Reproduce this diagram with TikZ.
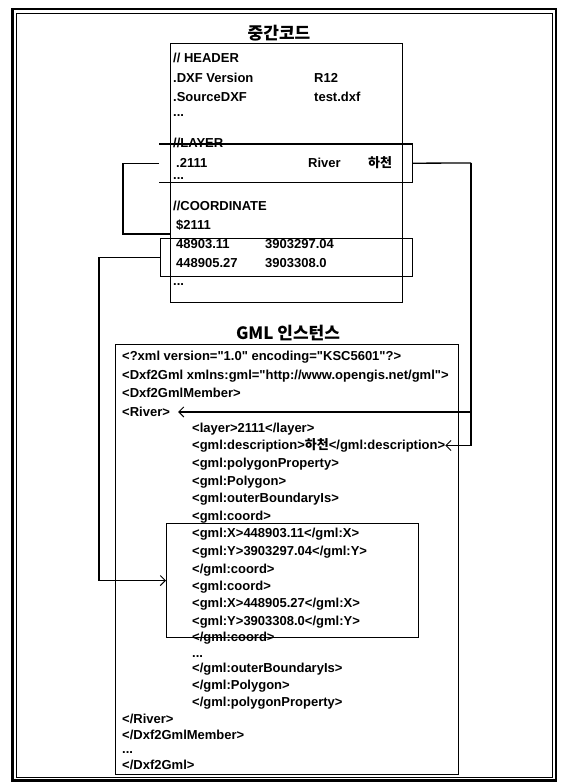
\documentclass[tikz,border=0pt]{standalone}
\usepackage{fontspec}
\setmainfont{Liberation Sans}[Ligatures=TeXOff]
\newfontfamily\kr{Noto Sans CJK KR}
\usetikzlibrary{arrows.meta}
\begin{document}
\begin{tikzpicture}[x=1pt,y=-1pt,
  txt/.style={anchor=base west, inner sep=0pt, font=\fontsize{13}{15}\selectfont\bfseries},
  ttl/.style={inner sep=0pt, font=\fontsize{17}{20}\selectfont\kr\bfseries},
  boxline/.style={line width=1.1pt},
  conn/.style={line width=1.3pt},
  arr/.style={conn, -{Straight Barb[length=5pt,width=10pt,line width=1pt]}},
  area/.style={inner sep=0pt, anchor=north west},
]
\useasboundingbox (0,0) rectangle (566,783);
\fill[white] (0,0) rectangle (566,783);
% outer frame
\draw[line width=2.4pt] (12.5,9) rectangle (556,780.5);
\draw[line width=0.7pt] (16.5,13) rectangle (552,777);

% titles
\node[ttl] (t1) at (279,33) {중간코드};
\node[ttl] (t2) at (288,333) {GML 인스턴스};

% upper box
\node[area, draw, boxline, minimum width=232, minimum height=259] (upper) at (170,43) {};
\node[area, minimum width=253, minimum height=38] (lay) at (159,144) {};
\draw[boxline] (lay.north west) -- (lay.north east) -- (lay.south east) -- (lay.south west);
\node[area, draw, boxline, minimum width=252, minimum height=38] (cbox) at (160,238) {};

\node[txt] (h1) at (173,62.5) {// HEADER};
\node[txt] (h2) at (173,82.5) {.DXF Version};
\node[txt] (h2v) at (314,82.5) {R12};
\node[txt] (h3) at (173,101.5) {.SourceDXF};
\node[txt] (h3v) at (314,101.5) {test.dxf};
\node[txt] (h4) at (173,117) {...};
\node[txt] (l1) at (173,147.5) {//LAYER};
\node[txt] (l2) at (176,167.5) {.2111};
\node[txt] (l2b) at (308,167.5) {River};
\node[txt] (l2c) at (368,167.5) {\kr\bfseries 하천};
\node[txt] (l3) at (173,180) {...};
\node[txt] (c1) at (173,210.5) {//COORDINATE};
\node[txt] (c2) at (176,229.5) {\$2111};
\node[txt] (c3) at (176,248.5) {48903.11};
\node[txt] (c3b) at (265,248.5) {3903297.04};
\node[txt] (c4) at (176,267.5) {448905.27};
\node[txt] (c4b) at (265,267.5) {3903308.0};
\node[txt] (c5) at (173,285) {...};

% GML box
\node[area, draw, boxline, minimum width=343, minimum height=430] (gml) at (115,344) {};
\node[area, draw, boxline, minimum width=252, minimum height=114] (gcbox) at (166,523) {};

\node[txt] (g1) at (122,360.6) {<?xml version="1.0" encoding="KSC5601"?>};
\node[txt] (g2) at (122,379.6) {<Dxf2Gml xmlns:gml="http://www.opengis.net/gml">};
\node[txt] (g3) at (122,397.6) {<Dxf2GmlMember>};
\node[txt] (river) at (122,416.6) {<River>};
\node[txt] (g5) at (192,432.6) {<layer>2111</layer>};
\node[txt] (desc) at (192,449.6) {<gml:description>{\kr\bfseries 하천}</gml:description>};
\node[txt] (g7) at (192,467.6) {<gml:polygonProperty>};
\node[txt] (g8) at (192,485.6) {<gml:Polygon>};
\node[txt] (g9) at (192,502.6) {<gml:outerBoundaryIs>};
\node[txt] (g10) at (192,520.6) {<gml:coord>};
\node[txt] (g11) at (192,537.6) {<gml:X>448903.11</gml:X>};
\node[txt] (g12) at (192,555.6) {<gml:Y>3903297.04</gml:Y>};
\node[txt] (g13) at (192,573.6) {</gml:coord>};
\node[txt] (g14) at (192,590.6) {<gml:coord>};
\node[txt] (g15) at (192,607.6) {<gml:X>448905.27</gml:X>};
\node[txt] (g16) at (192,625.6) {<gml:Y>3903308.0</gml:Y>};
\node[txt] (g17) at (192,641.6) {</gml:coord>};
\node[txt] (g18) at (192,657) {...};
\node[txt] (g19) at (192,672.6) {</gml:outerBoundaryIs>};
\node[txt] (g20) at (192,689.6) {</gml:Polygon>};
\node[txt] (g21) at (192,706.6) {</gml:polygonProperty>};
\node[txt] (g22) at (122,723) {</River>};
\node[txt] (g23) at (122,739.6) {</Dxf2GmlMember>};
\node[txt] (g24) at (122,753.5) {...};
\node[txt] (g25) at (122,769.6) {</Dxf2Gml>};

% connectors
\coordinate (j2111) at (170,234);
\draw[conn] (lay.west) -- ++(-36,0) |- (j2111);
\draw[arr] (cbox.west) -- ++(-61,0) |- (gcbox.west);
\coordinate (rtop) at (471,163);
\draw[conn] (lay.east) -- (rtop);
\draw[arr] (rtop) |- (desc.east);
\draw[arr, shorten >=8pt] (rtop |- river.east) -- (river.east);
\end{tikzpicture}
\end{document}
